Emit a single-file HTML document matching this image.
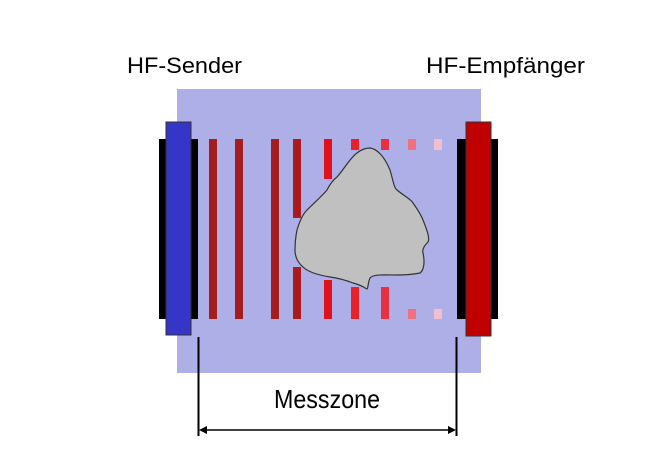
<!DOCTYPE html>
<html><head><style>html,body{margin:0;padding:0;background:#fff}svg{display:block}</style></head>
<body>
<svg width="653" height="470" viewBox="0 0 653 470" xmlns="http://www.w3.org/2000/svg">
<rect x="177" y="89" width="304" height="284" fill="#afafe8"/>
<rect x="159" y="139" width="39" height="180" fill="#000"/>
<rect x="166" y="122" width="25" height="213" fill="#3535c8" stroke="#333" stroke-width="1"/>
<rect x="457" y="139" width="41" height="180" fill="#000"/>
<rect x="466" y="122" width="25" height="214" fill="#c00000" stroke="#333" stroke-width="1"/>
<g>
<rect x="209" y="139" width="8" height="180" fill="#a31c1e"/>
<rect x="235" y="139" width="8" height="180" fill="#a31c1e"/>
<rect x="271" y="139" width="8" height="180" fill="#a31c1e"/>
<rect x="293" y="139" width="8" height="79" fill="#ab1a1e"/>
<rect x="293" y="267" width="8" height="52" fill="#ab1a1e"/>
<rect x="324" y="139" width="8" height="40" fill="#e0101e"/>
<rect x="324" y="280" width="8" height="39" fill="#e0101e"/>
<rect x="351" y="139" width="8" height="11" fill="#e8202a"/>
<rect x="351" y="287" width="8" height="32" fill="#e8202a"/>
<rect x="381" y="139" width="8" height="11" fill="#e83040"/>
<rect x="381" y="287" width="8" height="32" fill="#e83040"/>
<rect x="408" y="139" width="8" height="11" fill="#f07080"/>
<rect x="408" y="309" width="8" height="10" fill="#f07080"/>
<rect x="434" y="139" width="8" height="11" fill="#f0c0d0"/>
<rect x="434" y="309" width="8" height="10" fill="#f0c0d0"/>
</g>
<path d="M370,148 C378,149 385,158 390,170 C393,180 394,188 397,190 C404,196 411,199 413,203 C418,210 421,215 423,220 C427,230 430,238 428,242 C424,246 422,250 423,253 C425,262 424,270 420,273 C410,275 400,275 397,275 C385,275 373,274 370,278 C368,282 368,289 367,289 C362,286 358,284 353,283 C345,280 338,278 330,277 C318,275 308,272 303,267 C297,262 295,256 295,250 C295,240 296,235 297,230 C300,220 303,214 307,210 C315,202 322,196 327,190 C330,184 333,180 337,177 C345,168 350,158 357,153 C362,149 366,148 370,148 Z" fill="#c0c0c0" stroke="#333" stroke-width="1.2"/>
<g font-family="Liberation Sans, sans-serif" fill="#000">
<text x="127" y="73" font-size="22" textLength="115" lengthAdjust="spacingAndGlyphs">HF-Sender</text>
<text x="426" y="73" font-size="22" textLength="159" lengthAdjust="spacingAndGlyphs">HF-Empfänger</text>
<text x="274" y="408" font-size="26" textLength="106" lengthAdjust="spacingAndGlyphs">Messzone</text>
</g>
<line x1="198.5" y1="337" x2="198.5" y2="436" stroke="#000" stroke-width="2"/>
<line x1="456.5" y1="337" x2="456.5" y2="436" stroke="#000" stroke-width="2"/>
<line x1="202" y1="430" x2="453" y2="430" stroke="#000" stroke-width="1.5"/>
<path d="M199,430 L207,426 L207,434 Z" fill="#000"/>
<path d="M456,430 L448,426 L448,434 Z" fill="#000"/>
</svg>
</body></html>
